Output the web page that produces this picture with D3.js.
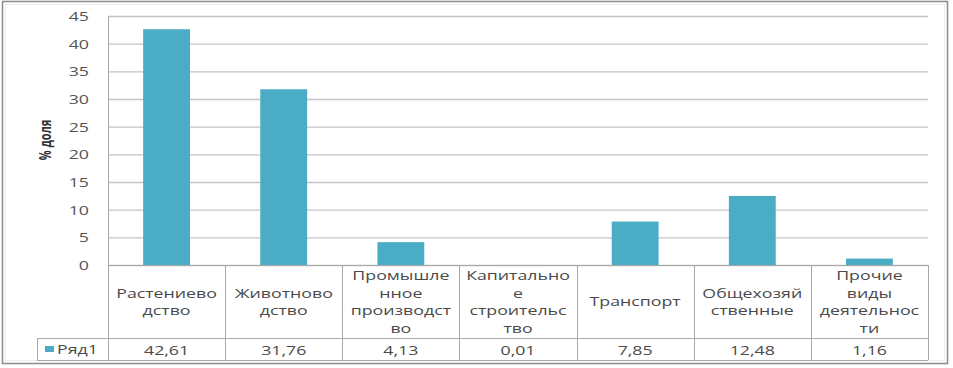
<!DOCTYPE html>
<html><head><meta charset="utf-8">
<script src="https://cdn.jsdelivr.net/npm/d3@7"></script>
<style>body{margin:0;background:#fff}svg{display:block}</style></head>
<body>
<script>
// ---- data ----
const categories = ["Растениево\nдство", "Животново\nдство", "Промышле\nнное\nпроизводст\nво", "Капитально\nе\nстроительс\nтво", "Транспорт", "Общехозяй\nственные", "Прочие\nвиды\nдеятельнос\nти"];
const values = [42.61, 31.76, 4.13, 0.01, 7.85, 12.48, 1.16];
const yTicks = [0, 5, 10, 15, 20, 25, 30, 35, 40, 45];
const seriesName = "Ряд1";
const yTitle = "% доля";

// ---- layout ----
const W = 953, H = 368;
const L = 108, R = 928, T = 16, B = 265, ROW1 = 338, ROW2 = 360, LEG = 37;
const SX = 1.42;                 // horizontal stretch of text
const FONT = "'Open Sans', sans-serif";
const barColor = "#4bacc6";
const gridColor = "#c4c4c4";
const tableColor = "#a8a8a8";

const svg = d3.select("body").append("svg").attr("width", W).attr("height", H);

// outer frame
svg.append("rect").attr("x", 2.5).attr("y", 1.5).attr("width", 945).attr("height", 362)
  .attr("fill", "#fff").attr("stroke", "#8f8f8f").attr("stroke-width", 1.6);
svg.append("rect").attr("x", 5.5).attr("y", 4.5).attr("width", 939).attr("height", 356)
  .attr("fill", "none").attr("stroke", "#ececec").attr("stroke-width", 1);

const x = d3.scaleBand().domain(d3.range(categories.length)).range([L, R]).padding(0);
const y = d3.scaleLinear().domain([0, 45]).range([B, T]);

function stretchedText(g, tx, ty, str, opts = {}) {
  return g.append("text")
    .attr("transform", `translate(${tx},${ty}) scale(${SX},1)` + (opts.rotate ? ` rotate(${opts.rotate})` : ""))
    .attr("text-anchor", opts.anchor || "middle")
    .attr("dominant-baseline", "central")
    .attr("font-family", FONT)
    .attr("font-size", opts.size || 12)
    .attr("font-weight", opts.weight || "normal")
    .attr("fill", opts.fill || "#4a4a4a")
    .text(str);
}

// gridlines
const yAxis = d3.axisLeft(y).tickValues(yTicks).tickSize(-(R - L)).tickFormat("");
const ga = svg.append("g").attr("transform", `translate(${L},0)`).call(yAxis);
ga.select(".domain").remove();
ga.selectAll(".tick line").attr("stroke", gridColor).attr("stroke-width", 1.3);

// tick labels
const tl = svg.append("g");
yTicks.forEach(v => stretchedText(tl, 89, y(v), String(v), {anchor: "end", size: 12.5, fill: "#555"}));

// y title
stretchedText(svg.append("g"), 45, 140, yTitle, {rotate: -90, size: 11, weight: "bold", fill: "#333"});

// bars
const bw = x.bandwidth() * 0.4;
svg.append("g").selectAll("rect").data(values).join("rect")
  .attr("x", (d, i) => x(i) + (x.bandwidth() - bw) / 2)
  .attr("width", bw)
  .attr("y", d => y(d))
  .attr("height", d => y(0) - y(d))
  .attr("fill", barColor);

// table lines
const tg = svg.append("g").attr("stroke", tableColor).attr("stroke-width", 1).attr("fill", "none");
tg.append("line").attr("x1", L).attr("x2", R).attr("y1", B + 0.5).attr("y2", B + 0.5);
tg.append("line").attr("x1", LEG).attr("x2", R).attr("y1", ROW1 + 0.5).attr("y2", ROW1 + 0.5);
tg.append("line").attr("x1", LEG).attr("x2", R).attr("y1", ROW2 + 0.5).attr("y2", ROW2 + 0.5);
tg.append("line").attr("x1", LEG + 0.5).attr("x2", LEG + 0.5).attr("y1", ROW1).attr("y2", ROW2);
tg.append("line").attr("x1", L + 0.5).attr("x2", L + 0.5).attr("y1", T).attr("y2", ROW2);
d3.range(1, categories.length + 1).forEach(i => {
  const xx = Math.round(i < categories.length ? x(i) : R) + 0.5;
  tg.append("line").attr("x1", xx).attr("x2", xx).attr("y1", B).attr("y2", ROW2);
});

// category labels
const cg = svg.append("g");
const lh = 17.5, cy = (B + ROW1) / 2;
categories.forEach((c, i) => {
  const lines = c.split("\n");
  lines.forEach((ln, k) => {
    stretchedText(cg, x(i) + x.bandwidth() / 2, cy + (k - (lines.length - 1) / 2) * lh, ln, {size: 12.5});
  });
});

// values row
const vg = svg.append("g");
const fmt = v => d3.format(".2f")(v).replace(".", ",");
values.forEach((v, i) => stretchedText(vg, x(i) + x.bandwidth() / 2, (ROW1 + ROW2) / 2 + 1, fmt(v), {size: 12.5}));

// legend key
svg.append("rect").attr("x", 45).attr("y", 346).attr("width", 9).attr("height", 6).attr("fill", barColor);
stretchedText(svg.append("g"), 57, 349, seriesName, {anchor: "start", size: 12.5});
</script>
</body></html>
